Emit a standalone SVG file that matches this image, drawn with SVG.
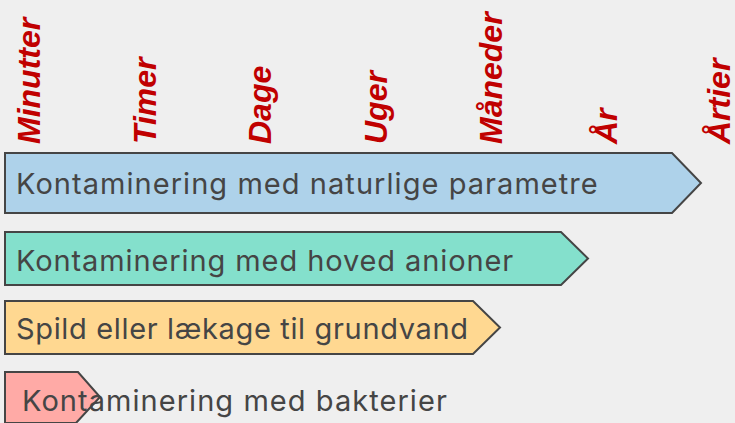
<svg xmlns="http://www.w3.org/2000/svg" width="735" height="423" viewBox="0 0 735 423">
<style>
.bg{fill:#efefef}
.bar{stroke:#454545;stroke-width:2}
.lbl{font-family:"Inter","Liberation Sans",sans-serif;font-size:29px;letter-spacing:1.05px;fill:#454545}
.tick{font-family:"Liberation Sans",Arial,sans-serif;font-size:32px;font-weight:bold;font-style:italic;fill:#c00000}
</style>
<rect class="bg" x="0" y="0" width="735" height="423"/>
<g id="scale">
<text class="tick" transform="translate(40,144) rotate(-90)">Minutter</text>
<text class="tick" transform="translate(156,144) rotate(-90)">Timer</text>
<text class="tick" transform="translate(271,144) rotate(-90)">Dage</text>
<text class="tick" transform="translate(387,144) rotate(-90)">Uger</text>
<text class="tick" transform="translate(502,144) rotate(-90)">Måneder</text>
<text class="tick" transform="translate(617,144) rotate(-90)">År</text>
<text class="tick" transform="translate(730,144) rotate(-90)">Årtier</text>
</g>
<g id="bar1">
<polygon class="bar" fill="#aed2ea" points="5,153 672,153 701,183 672,213 5,213"/>
<text class="lbl" x="16" y="194">Kontaminering med naturlige parametre</text>
</g>
<g id="bar2">
<polygon class="bar" fill="#84e0cc" points="5,232 561,232 588,258.5 561,285 5,285"/>
<text class="lbl" x="16" y="271" style="letter-spacing:0.9px">Kontaminering med hoved anioner</text>
</g>
<g id="bar3">
<polygon class="bar" fill="#ffd891" points="5,301 473,301 500,327.5 473,354 5,354"/>
<text class="lbl" x="16" y="339" style="letter-spacing:0.65px">Spild eller lækage til grundvand</text>
</g>
<g id="bar4">
<polygon class="bar" fill="#ffaaa6" points="5,372 78,372 100,397 76,423 5,423"/>
<text class="lbl" x="22" y="411">Kontaminering med bakterier</text>
</g>
<g id="connectors"></g>
</svg>
